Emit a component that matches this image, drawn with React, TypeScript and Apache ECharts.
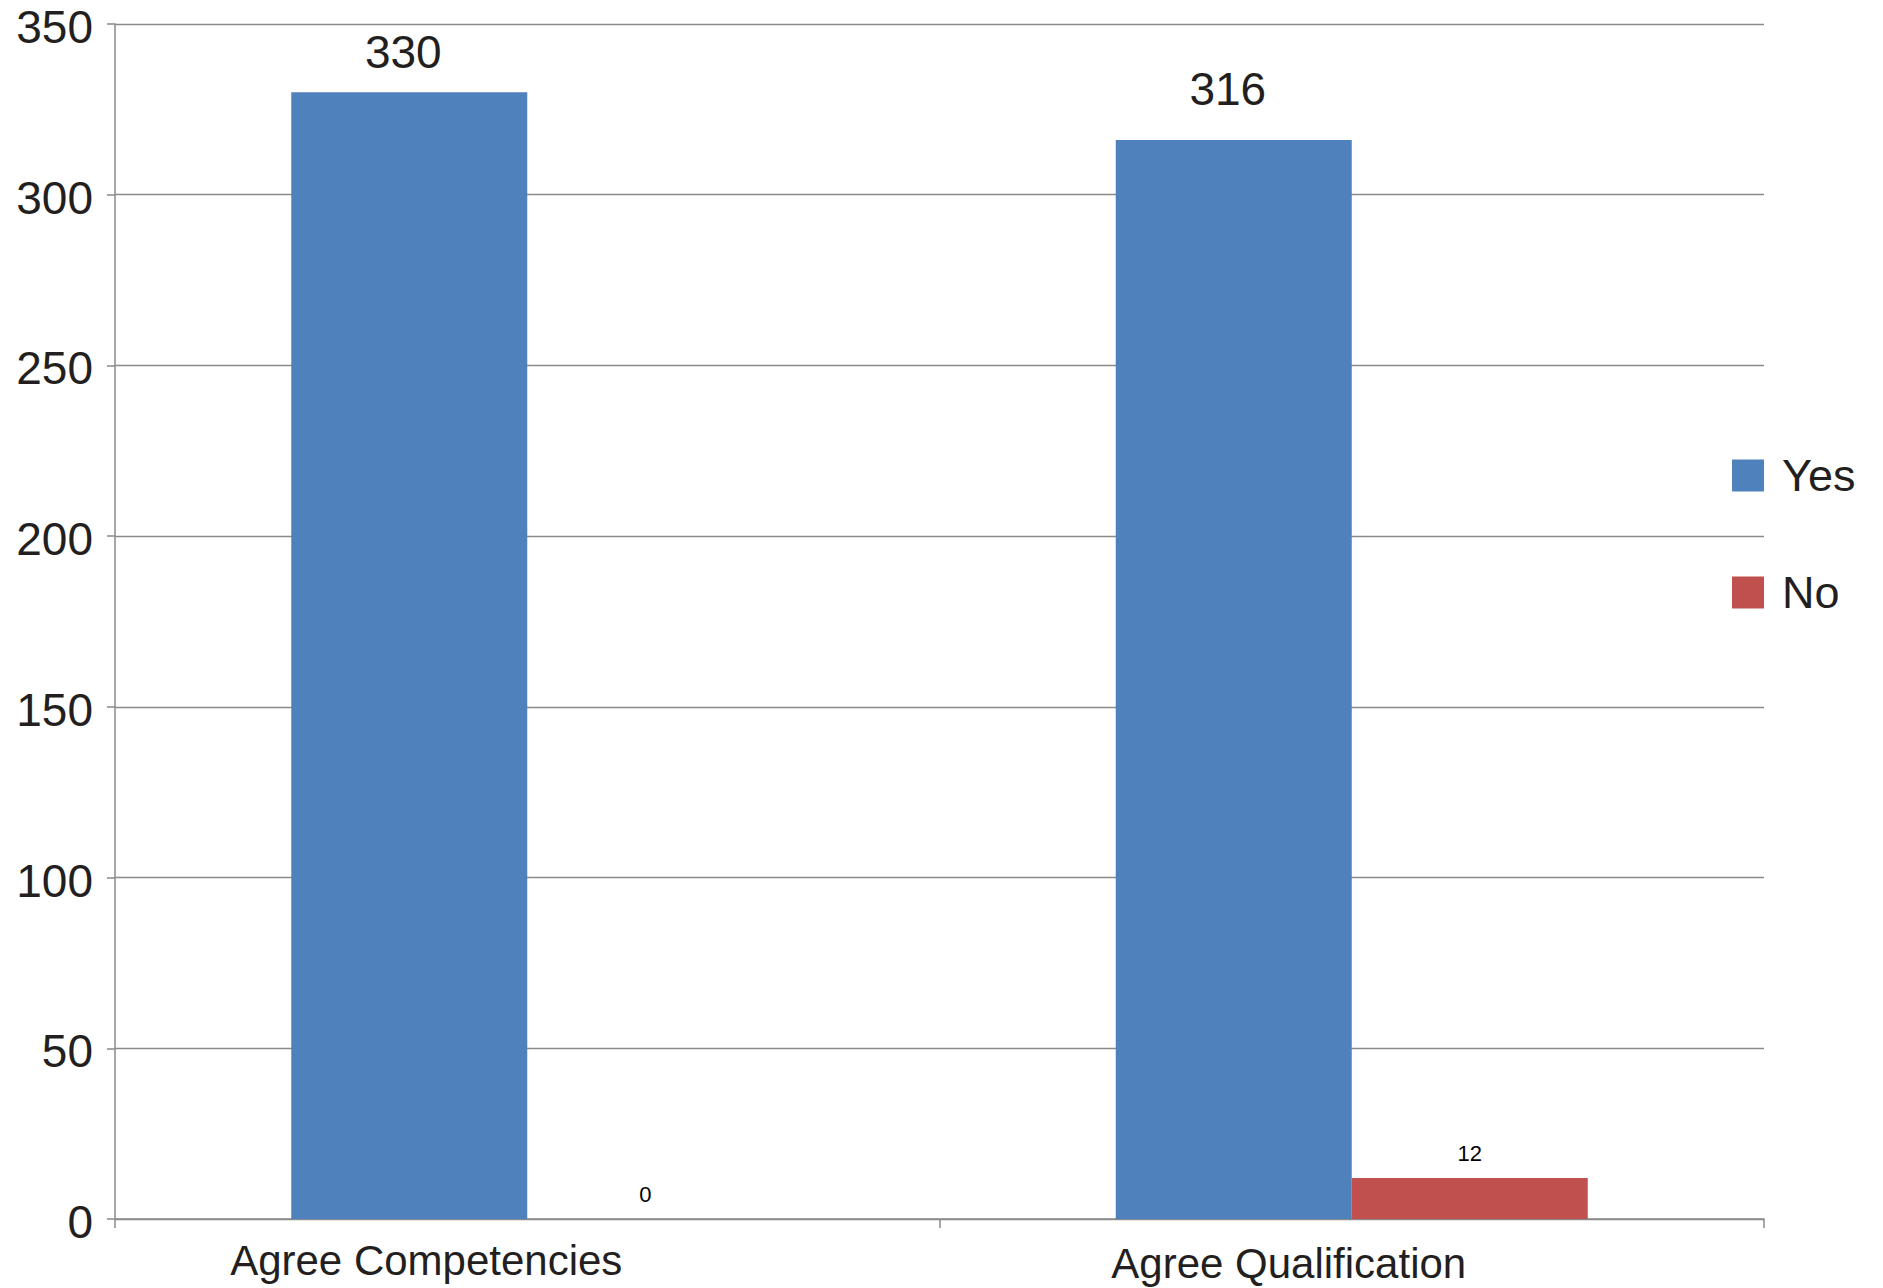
import React, { useEffect, useRef } from "react";
import * as echarts from "echarts";

const categories = ["Agree Competencies", "Agree Qualification"];
const yesValues = [330, 316];
const noValues = [0, 12];
const seriesNames = ["Yes", "No"];
const yTicks = { min: 0, max: 350, interval: 50 };

const FONT = "'Liberation Sans', Arial, sans-serif";
const TEXT = "#231f20";
const GRID = "#8a8a8a";

export default function App() {
  const ref = useRef<HTMLDivElement>(null);
  useEffect(() => {
    if (!ref.current) return;
    const chart = echarts.init(ref.current, undefined, { renderer: "svg" });
    const yesLabelDistance = [17, 28];
    chart.setOption({
      animation: false,
      backgroundColor: "#ffffff",
      grid: { left: 115, right: 119, top: 24, bottom: 69 },
      legend: {
        orient: "vertical",
        left: 1727,
        top: 448,
        itemWidth: 32,
        itemHeight: 32,
        itemGap: 72,
        icon: "rect",
        data: seriesNames,
        textStyle: {
          fontFamily: FONT,
          fontSize: 45,
          lineHeight: 45,
          color: TEXT,
          padding: [0, 0, 0, 13],
        },
      },
      xAxis: {
        type: "category",
        data: [
          { value: categories[0], textStyle: { padding: [0, 202, 0, 0] } },
          { value: categories[1], textStyle: { padding: [3, 126, 0, 0] } },
        ],
        axisLine: { show: true, lineStyle: { color: GRID, width: 1.5 } },
        axisTick: { show: true, length: 9, lineStyle: { color: GRID, width: 1.5 } },
        axisLabel: {
          fontFamily: FONT,
          fontSize: 42,
          color: TEXT,
          margin: 20,
        },
      },
      yAxis: {
        type: "value",
        min: yTicks.min,
        max: yTicks.max,
        interval: yTicks.interval,
        axisLine: { show: true, lineStyle: { color: GRID, width: 1.5 } },
        axisTick: { show: true, length: 8, lineStyle: { color: GRID, width: 1.5 } },
        splitLine: { show: true, lineStyle: { color: GRID, width: 1.3 } },
        axisLabel: {
          fontFamily: FONT,
          fontSize: 46,
          lineHeight: 6,
          verticalAlign: "top",
          color: TEXT,
          margin: 22,
        },
      },
      series: [
        {
          name: seriesNames[0],
          type: "bar",
          data: yesValues.map((v, i) => ({
            value: v,
            label: { distance: yesLabelDistance[i] },
          })),
          barWidth: 236,
          barGap: "0%",
          itemStyle: { color: "#4F81BD" },
          label: {
            show: true,
            position: "top",
            offset: [-6, 0],
            fontFamily: FONT,
            fontSize: 46,
            color: TEXT,
          },
        },
        {
          name: seriesNames[1],
          type: "bar",
          data: noValues,
          barWidth: 236,
          barGap: "0%",
          itemStyle: { color: "#C0504D" },
          label: {
            show: true,
            position: "top",
            distance: 14,
            fontFamily: FONT,
            fontSize: 22,
            color: "#000000",
          },
        },
      ],
    });
    return () => chart.dispose();
  }, []);
  return (
    <div
      ref={ref}
      style={{ position: "absolute", left: 0, top: 0, width: 1883, height: 1288 }}
    />
  );
}
